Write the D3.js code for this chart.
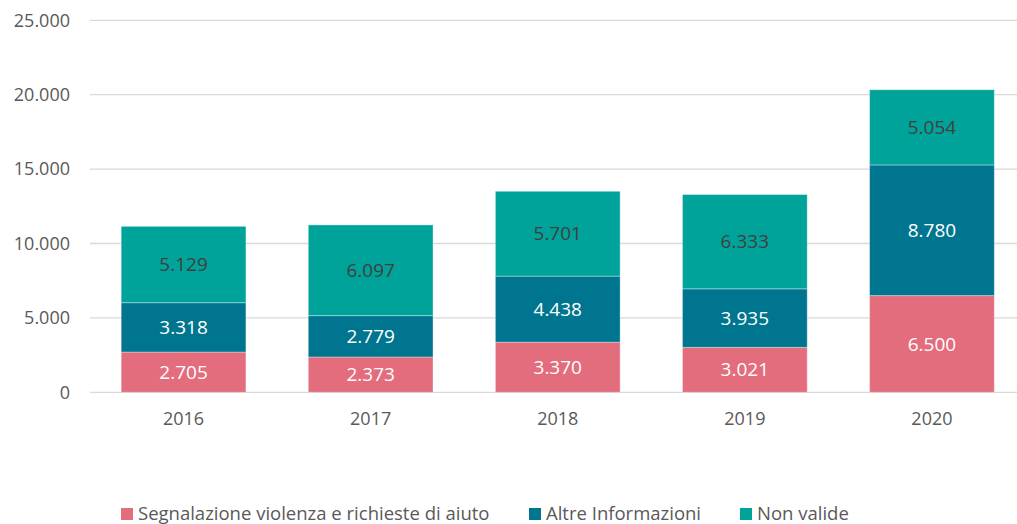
<!DOCTYPE html>
<html lang="it">
<head>
<meta charset="utf-8">
<script src="https://d3js.org/d3.v7.min.js"></script>
<style>
  body { margin: 0; background: #fff; }
  text { font-family: "Open Sans", sans-serif; }
</style>
</head>
<body>
<script>
  // data
  const years = ["2016", "2017", "2018", "2019", "2020"];
  const segnalazioni = [2705, 2373, 3370, 3021, 6500];
  const altreInfo = [3318, 2779, 4438, 3935, 8780];
  const nonValide = [5129, 6097, 5701, 6333, 5054];
  const seriesNames = ["Segnalazione violenza e richieste di aiuto", "Altre Informazioni", "Non valide"];
  const yTicks = [0, 5000, 10000, 15000, 20000, 25000];

  const W = 1017, H = 524;
  const colors = ["#E36C7D", "#00758F", "#00A39A"];
  const labelColors = ["#ffffff", "#ffffff", "#404040"];

  const fmt = d3.formatLocale({decimal: ",", thousands: ".", grouping: [3], currency: ["", "€"]}).format(",d");

  const svg = d3.select("body").append("svg")
    .attr("width", W).attr("height", H);

  const x = d3.scaleBand().domain(years).range([90, 1025.5])
    .paddingInner(1/3).paddingOuter(1/6);
  const y = d3.scaleLinear().domain([0, 25000]).range([392.3, 20.3]);

  // gridlines
  svg.append("g").selectAll("line").data(yTicks).join("line")
    .attr("x1", 90).attr("x2", W)
    .attr("y1", d => y(d)).attr("y2", d => y(d))
    .attr("stroke", "#d9d9d9").attr("stroke-width", 1.3);

  // y labels
  svg.append("g").selectAll("text").data(yTicks).join("text")
    .attr("x", 70).attr("y", d => y(d))
    .attr("dy", "0.35em").attr("text-anchor", "end")
    .attr("font-size", 18).attr("fill", "#595959")
    .text(d => fmt(d));

  // x labels
  svg.append("g").selectAll("text").data(years).join("text")
    .attr("x", d => x(d) + x.bandwidth() / 2).attr("y", 419)
    .attr("dy", "0.35em").attr("text-anchor", "middle")
    .attr("font-size", 18).attr("fill", "#595959")
    .text(d => d);

  const table = years.map((yr, i) => ({year: yr, s0: segnalazioni[i], s1: altreInfo[i], s2: nonValide[i]}));
  const stack = d3.stack().keys(["s0", "s1", "s2"])(table);

  const layers = svg.append("g").selectAll("g").data(stack).join("g")
    .attr("fill", (d, i) => colors[i]);

  layers.selectAll("rect").data(d => d).join("rect")
    .attr("x", d => x(d.data.year)).attr("width", x.bandwidth())
    .attr("y", d => y(d[1])).attr("height", d => y(d[0]) - y(d[1]))
    .attr("stroke", "#ffffff").attr("stroke-opacity", 0.35).attr("stroke-width", 1);

  layers.each(function(layer, li) {
    d3.select(this).selectAll("text").data(layer).join("text")
      .attr("x", d => x(d.data.year) + x.bandwidth() / 2)
      .attr("y", d => (y(d[0]) + y(d[1])) / 2)
      .attr("dy", "0.35em").attr("text-anchor", "middle")
      .attr("font-size", 19).attr("fill", labelColors[li])
      .text(d => fmt(d[1] - d[0]));
  });

  // legend
  const legendX = [121, 529, 740];
  const lg = svg.append("g").selectAll("g").data(seriesNames).join("g")
    .attr("transform", (d, i) => `translate(${legendX[i]},508)`);
  lg.append("rect").attr("width", 12).attr("height", 12)
    .attr("fill", (d, i) => colors[i]);
  lg.append("text").attr("x", 17).attr("y", 6).attr("dy", "0.35em")
    .attr("font-size", 18.5).attr("fill", "#595959")
    .text(d => d);
</script>
</body>
</html>
